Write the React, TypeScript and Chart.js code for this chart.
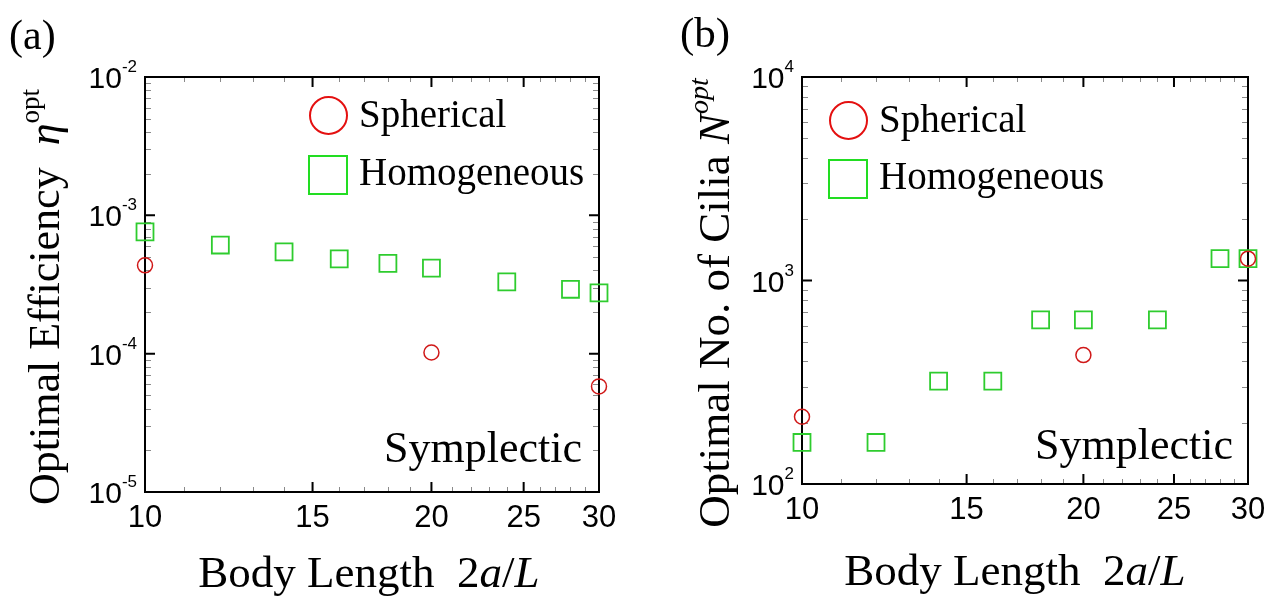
import React, { useEffect, useRef } from 'react';
import { Chart, registerables } from 'chart.js';

Chart.register(...registerables);

// ---------- data ----------
const A_HOMO_X = [10, 12, 14, 16, 18, 20, 24, 28, 30];
const A_HOMO_Y = [7.6e-4, 6.1e-4, 5.45e-4, 4.85e-4, 4.5e-4, 4.15e-4, 3.3e-4, 2.92e-4, 2.75e-4];
const A_SPH_X = [10, 20, 30];
const A_SPH_Y = [4.35e-4, 1.02e-4, 5.8e-5];

const B_HOMO_X = [10, 12, 14, 16, 18, 20, 24, 28, 30];
const B_HOMO_Y = [160, 160, 320, 320, 640, 640, 640, 1280, 1280];
const B_SPH_X = [10, 20, 30];
const B_SPH_Y = [214, 430, 1280];

const X_MAJOR_TICKS = [10, 15, 20, 25, 30];
const X_MINOR_TICKS = [11, 12, 13, 14, 16, 17, 18, 19, 21, 22, 23, 24, 26, 27, 28, 29];
const A_Y_DECADES = [-5, -4, -3, -2];
const B_Y_DECADES = [2, 3, 4];
const Y_MINOR_FACTORS = [2, 3, 4, 5, 6, 7, 8, 9];

const RED = '#d01818';
const GREEN = '#2ecc2e';
const LEGEND_RED = '#e41010';
const LEGEND_GREEN = '#22dd22';

const SANS = '"Liberation Sans", Arial, sans-serif';

const framePlugin = {
  id: 'frame',
  beforeDatasetsDraw(chart: any, _args: any, opts: any) {
    const { ctx, chartArea, scales } = chart;
    const { left, right, top, bottom } = chartArea;
    const xs = scales.x;
    const ys = scales.y;
    const yMinor: number[] = [];
    for (let i = 0; i < opts.decades.length - 1; i++) {
      for (const f of Y_MINOR_FACTORS) yMinor.push(f * Math.pow(10, opts.decades[i]));
    }
    ctx.save();
    // minor ticks
    ctx.strokeStyle = '#8a8a8a';
    ctx.lineWidth = 1;
    ctx.beginPath();
    for (const v of X_MINOR_TICKS) {
      const px = Math.round(xs.getPixelForValue(v)) + 0.5;
      ctx.moveTo(px, bottom); ctx.lineTo(px, bottom - 5);
      ctx.moveTo(px, top); ctx.lineTo(px, top + 5);
    }
    for (const v of yMinor) {
      const py = Math.round(ys.getPixelForValue(v)) + 0.5;
      ctx.moveTo(left, py); ctx.lineTo(left + 6, py);
      ctx.moveTo(right, py); ctx.lineTo(right - 6, py);
    }
    ctx.stroke();
    // major ticks
    ctx.strokeStyle = '#000';
    ctx.lineWidth = 2;
    ctx.beginPath();
    for (const v of X_MAJOR_TICKS) {
      const px = xs.getPixelForValue(v);
      ctx.moveTo(px, bottom); ctx.lineTo(px, bottom - 10);
      ctx.moveTo(px, top); ctx.lineTo(px, top + 10);
    }
    for (const e of opts.decades) {
      const py = ys.getPixelForValue(Math.pow(10, e));
      ctx.moveTo(left, py); ctx.lineTo(left + 10, py);
      ctx.moveTo(right, py); ctx.lineTo(right - 10, py);
    }
    ctx.stroke();
    // box
    ctx.lineWidth = 2;
    ctx.strokeRect(left, top, right - left, bottom - top);

    // y tick labels: "10" with raised exponent, placed through the y scale
    ctx.fillStyle = '#000';
    ctx.textAlign = 'right';
    ctx.textBaseline = 'alphabetic';
    for (const e of opts.decades) {
      const py = ys.getPixelForValue(Math.pow(10, e));
      const exp = String(e);
      ctx.font = `17px ${SANS}`;
      const ew = ctx.measureText(exp).width;
      const xr = left - 8;
      ctx.fillText(exp, xr, py - 5);
      ctx.font = `30px ${SANS}`;
      ctx.fillText('10', xr - ew, py + 11);
    }
    ctx.restore();
  },
};

type PanelProps = {
  width: number;
  height: number;
  sphX: number[];
  sphY: number[];
  homoX: number[];
  homoY: number[];
  decades: number[];
  yAxisWidth: number;
  xAxisHeight: number;
  padTop: number;
  padRight: number;
};

function Panel(p: PanelProps) {
  const ref = useRef<HTMLCanvasElement | null>(null);
  useEffect(() => {
    if (!ref.current) return;
    const chart = new Chart(ref.current, {
      type: 'scatter',
      data: {
        datasets: [
          {
            label: 'Spherical',
            data: p.sphX.map((x, i) => ({ x, y: p.sphY[i] })),
            pointStyle: 'circle',
            pointRadius: 7.5,
            borderColor: RED,
            backgroundColor: 'rgba(0,0,0,0)',
            borderWidth: 1.5,
            clip: false,
          } as any,
          {
            label: 'Homogeneous',
            data: p.homoX.map((x, i) => ({ x, y: p.homoY[i] })),
            pointStyle: 'rect',
            pointRadius: 12,
            borderColor: GREEN,
            backgroundColor: 'rgba(0,0,0,0)',
            borderWidth: 1.8,
            clip: false,
          } as any,
        ],
      },
      options: {
        animation: false,
        responsive: false,
        maintainAspectRatio: false,
        layout: { padding: { left: 0, top: p.padTop, right: p.padRight, bottom: 0 } },
        plugins: {
          legend: { display: false },
          tooltip: { enabled: false },
          frame: { decades: p.decades },
        } as any,
        scales: {
          x: {
            type: 'logarithmic',
            min: 10,
            max: 30,
            afterBuildTicks: (s: any) => {
              s.ticks = X_MAJOR_TICKS.map((v) => ({ value: v }));
            },
            afterFit: (s: any) => {
              s.height = p.xAxisHeight;
            },
            grid: { display: false, drawTicks: false },
            border: { display: false },
            ticks: {
              autoSkip: false,
              maxRotation: 0,
              padding: 8,
              color: '#000',
              font: { family: SANS, size: 31 },
              callback: (v: any) => String(v),
            },
          },
          y: {
            type: 'logarithmic',
            min: Math.pow(10, p.decades[0]),
            max: Math.pow(10, p.decades[p.decades.length - 1]),
            afterBuildTicks: (s: any) => {
              s.ticks = p.decades.map((e) => ({ value: Math.pow(10, e) }));
            },
            afterFit: (s: any) => {
              s.width = p.yAxisWidth;
            },
            grid: { display: false, drawTicks: false },
            border: { display: false },
            ticks: { display: false },
          },
        },
      } as any,
      plugins: [framePlugin],
    });
    return () => chart.destroy();
  }, []);
  return <canvas ref={ref} width={p.width} height={p.height} style={{ width: p.width, height: p.height, display: 'block' }} />;
}

const serif = '"Liberation Serif", "Times New Roman", serif';

const abs = (left: number, top: number, extra: React.CSSProperties = {}): React.CSSProperties => ({
  position: 'absolute',
  left,
  top,
  fontFamily: serif,
  color: '#000',
  whiteSpace: 'nowrap',
  lineHeight: 1,
  ...extra,
});

function Legend({ x, y1, y2, textX }: { x: number; y1: number; y2: number; textX: number }) {
  return (
    <>
      <div
        style={{
          position: 'absolute', left: x - 19.5, top: y1 - 19.5, width: 39, height: 39,
          boxSizing: 'border-box', border: `2px solid ${LEGEND_RED}`, borderRadius: '50%',
        }}
      />
      <div style={abs(textX, y1 - 21, { fontSize: 39 })}>Spherical</div>
      <div
        style={{
          position: 'absolute', left: x - 20, top: y2 - 20, width: 40, height: 40,
          boxSizing: 'border-box', border: `2px solid ${LEGEND_GREEN}`,
        }}
      />
      <div style={abs(textX, y2 - 23, { fontSize: 39 })}>Homogeneous</div>
    </>
  );
}

export default function App() {
  return (
    <div style={{ position: 'absolute', left: 0, top: 0, width: 1276, height: 598, background: '#fff', overflow: 'hidden' }}>
      <div style={{ position: 'absolute', left: 0, top: 0 }}>
        <Panel
          width={640} height={598}
          sphX={A_SPH_X} sphY={A_SPH_Y} homoX={A_HOMO_X} homoY={A_HOMO_Y}
          decades={A_Y_DECADES} yAxisWidth={145} xAxisHeight={106} padTop={77} padRight={41}
        />
      </div>
      <div style={{ position: 'absolute', left: 640, top: 0 }}>
        <Panel
          width={636} height={598}
          sphX={B_SPH_X} sphY={B_SPH_Y} homoX={B_HOMO_X} homoY={B_HOMO_Y}
          decades={B_Y_DECADES} yAxisWidth={162} xAxisHeight={114} padTop={77} padRight={28}
        />
      </div>

      {/* panel labels */}
      <div style={abs(9, 14, { fontSize: 42 })}>(a)</div>
      <div style={abs(680, 11, { fontSize: 43 })}>(b)</div>

      {/* legends */}
      <Legend x={328} y1={115} y2={175} textX={359} />
      <Legend x={848} y1={120} y2={179} textX={879} />

      {/* annotations */}
      <div style={abs(384, 426, { fontSize: 44 })}>Symplectic</div>
      <div style={abs(1035, 423, { fontSize: 44 })}>Symplectic</div>

      {/* x titles */}
      <div style={abs(369, 572, { fontSize: 45, transform: 'translate(-50%, -50%)' })}>
        Body Length&nbsp;&nbsp;2<i>a</i>/<i>L</i>
      </div>
      <div style={abs(1015, 570, { fontSize: 45, transform: 'translate(-50%, -50%)' })}>
        Body Length&nbsp;&nbsp;2<i>a</i>/<i>L</i>
      </div>

      {/* y titles */}
      <div style={abs(42, 297, { fontSize: 44, transform: 'translate(-50%, -50%) rotate(-90deg)' })}>
        Optimal Efficiency&nbsp;&nbsp;<i>η</i>
        <span style={{ fontSize: 27, verticalAlign: '0.75em' }}>opt</span>
      </div>
      <div style={abs(711, 303, { fontSize: 45, transform: 'translate(-50%, -50%) rotate(-90deg)' })}>
        Optimal No. of Cilia <i>N</i>
        <span style={{ fontSize: 28, verticalAlign: '0.75em' }}>
          <i>opt</i>
        </span>
      </div>
    </div>
  );
}
